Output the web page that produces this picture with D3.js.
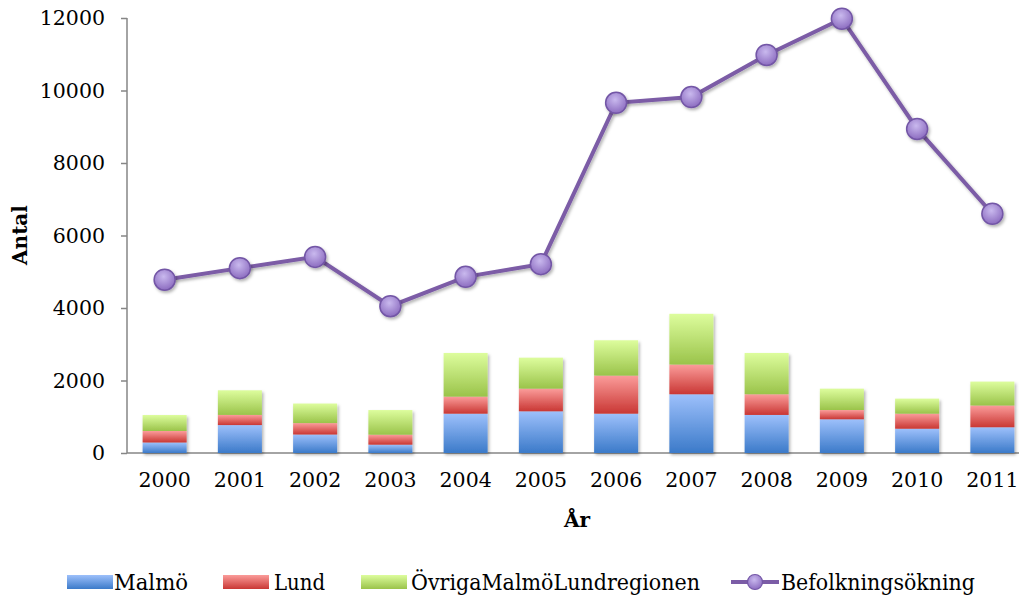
<!DOCTYPE html>
<html>
<head>
<meta charset="utf-8">
<title>Antal per år</title>
<style>
body { margin: 0; background: #fff; }
svg { display: block; }
text { font-family: "DejaVu Serif", "Liberation Serif", serif; fill: #000; }
.axis path, .axis line { stroke: #868686; stroke-width: 1.5px; }
.axis text { font-size: 20.5px; }
</style>
</head>
<body>
<svg width="1019" height="596"></svg>
<script src="https://d3js.org/d3.v7.min.js"></script>
<script>
var years = ["2000","2001","2002","2003","2004","2005","2006","2007","2008","2009","2010","2011"];
var malmo = [290, 770, 510, 230, 1085, 1150, 1085, 1620, 1050, 930, 670, 710];
var lund = [317, 280, 315, 275, 470, 625, 1050, 820, 570, 255, 415, 600];
var ovriga = [441, 680, 540, 680, 1205, 855, 975, 1400, 1140, 590, 415, 660];
var befolkning = [4780, 5100, 5410, 4050, 4860, 5210, 9660, 9820, 10980, 11980, 8940, 6600];
var yTicks = [0, 2000, 4000, 6000, 8000, 10000, 12000];
var seriesNames = ["Malmö", "Lund", "ÖvrigaMalmöLundregionen"];
var lineName = "Befolkningsökning";

var svg = d3.select("svg");
var plotLeft = 127, plotRight = 1030, plotTop = 18, plotBottom = 453;

var x = d3.scaleBand().domain(years).range([plotLeft, plotRight]).paddingInner(0.415).paddingOuter(0.2075);
var y = d3.scaleLinear().domain([0, 12000]).range([plotBottom, plotTop]);

var defs = svg.append("defs");
var grads = [
  { id: "gBlue", light: "#9DC0FB", dark: "#3B7AC9" },
  { id: "gRed", light: "#FB9C9A", dark: "#C93734" },
  { id: "gGreen", light: "#DDFD9D", dark: "#9AC34A" }
];
grads.forEach(function (g) {
  var lg = defs.append("linearGradient").attr("id", g.id)
    .attr("x1", 0).attr("y1", 0).attr("x2", 0).attr("y2", 1);
  lg.append("stop").attr("offset", "0%").attr("stop-color", g.light);
  lg.append("stop").attr("offset", "100%").attr("stop-color", g.dark);
});
var rg = defs.append("radialGradient").attr("id", "gDot")
  .attr("cx", "45%").attr("cy", "35%").attr("r", "65%");
rg.append("stop").attr("offset", "0%").attr("stop-color", "#C9B9EE");
rg.append("stop").attr("offset", "100%").attr("stop-color", "#8C6CC0");
var sh = defs.append("filter").attr("id", "shadow")
  .attr("x", "-20%").attr("y", "-20%").attr("width", "150%").attr("height", "150%");
sh.append("feDropShadow").attr("dx", 1.5).attr("dy", 2).attr("stdDeviation", 1.5)
  .attr("flood-color", "#000").attr("flood-opacity", 0.3);

// axes
var yAxis = svg.append("g").attr("class", "axis")
  .attr("transform", "translate(" + plotLeft + ",0)")
  .call(d3.axisLeft(y).tickValues(yTicks).tickSize(6).tickPadding(16).tickFormat(d3.format("d")));
yAxis.select(".domain").attr("d", "M0," + plotBottom + "V" + plotTop);

var xAxis = svg.append("g").attr("class", "axis")
  .attr("transform", "translate(0," + plotBottom + ")")
  .call(d3.axisBottom(x).tickSize(0).tickPadding(19));
xAxis.select(".domain").attr("d", "M" + plotLeft + ",0H" + plotRight);

// stacked bars
var stackData = years.map(function (yr, i) {
  return { year: yr, m: malmo[i], l: lund[i], o: ovriga[i] };
});
var stack = d3.stack().keys(["m", "l", "o"])(stackData);
var fills = ["url(#gBlue)", "url(#gRed)", "url(#gGreen)"];
var barG = svg.append("g").attr("filter", "url(#shadow)");
stack.forEach(function (layer, k) {
  barG.selectAll(null).data(layer).enter().append("rect")
    .attr("x", function (d) { return x(d.data.year); })
    .attr("width", x.bandwidth())
    .attr("y", function (d) { return y(d[1]); })
    .attr("height", function (d) { return y(d[0]) - y(d[1]); })
    .attr("fill", fills[k]);
});

// line
var line = d3.line()
  .x(function (d, i) { return x(years[i]) + x.bandwidth() / 2; })
  .y(function (d) { return y(d); });
svg.append("path").datum(befolkning)
  .attr("d", line)
  .attr("fill", "none")
  .attr("stroke", "#7B5CA6")
  .attr("stroke-width", 4)
  .attr("filter", "url(#shadow)");
svg.append("g").attr("filter", "url(#shadow)")
  .selectAll("circle").data(befolkning).enter().append("circle")
  .attr("cx", function (d, i) { return x(years[i]) + x.bandwidth() / 2; })
  .attr("cy", function (d) { return y(d); })
  .attr("r", 10.5)
  .attr("fill", "url(#gDot)")
  .attr("stroke", "#7356A6")
  .attr("stroke-width", 1.5);

// axis titles
svg.append("text")
  .attr("transform", "translate(27,235) rotate(-90)")
  .attr("text-anchor", "middle")
  .style("font-weight", "bold").style("font-size", "20px")
  .text("Antal");
svg.append("text")
  .attr("x", 577).attr("y", 527)
  .attr("text-anchor", "middle")
  .style("font-weight", "bold").style("font-size", "20px")
  .text("År");

// legend
var legY = 582;
var legItems = [
  { sx: 67, tx: 114, tw: 74, fill: "url(#gBlue)" },
  { sx: 223, tx: 274, tw: 51, fill: "url(#gRed)" },
  { sx: 361, tx: 411, tw: 289, fill: "url(#gGreen)" }
];
legItems.forEach(function (it, i) {
  svg.append("rect").attr("x", it.sx).attr("y", legY - 7).attr("width", 46).attr("height", 14)
    .attr("fill", it.fill);
  svg.append("text").attr("x", it.tx).attr("y", legY + 8)
    .attr("textLength", it.tw).attr("lengthAdjust", "spacingAndGlyphs")
    .style("font-size", "23px").text(seriesNames[i]);
});
svg.append("line").attr("x1", 731).attr("x2", 779).attr("y1", legY).attr("y2", legY)
  .attr("stroke", "#7B5CA6").attr("stroke-width", 4);
svg.append("circle").attr("cx", 755).attr("cy", legY).attr("r", 7.5)
  .attr("fill", "url(#gDot)").attr("stroke", "#7356A6").attr("stroke-width", 1.2);
svg.append("text").attr("x", 781).attr("y", legY + 8)
  .attr("textLength", 194).attr("lengthAdjust", "spacingAndGlyphs")
  .style("font-size", "23px").text(lineName);
</script>
</body>
</html>
